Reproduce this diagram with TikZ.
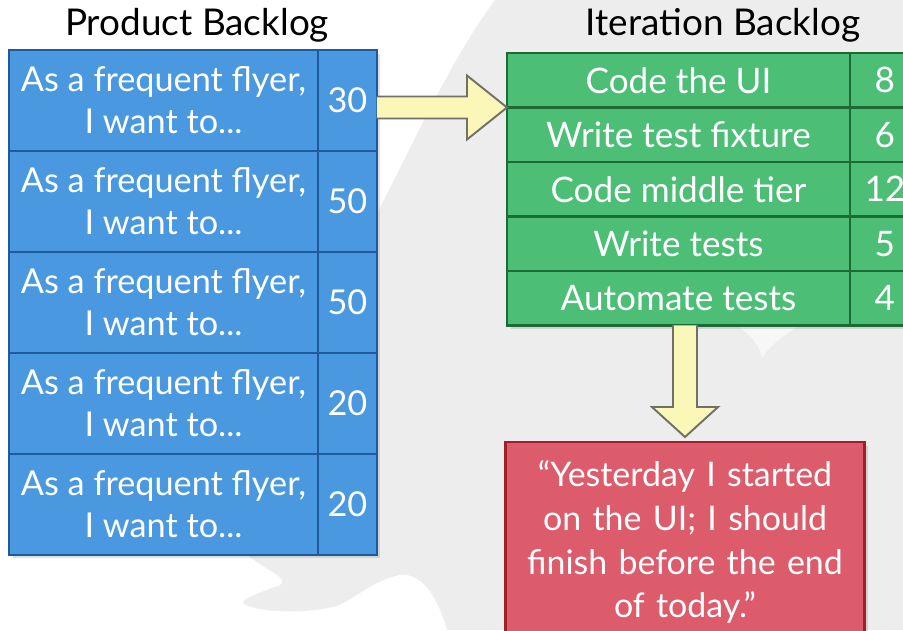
\documentclass[tikz,border=0pt]{standalone}
\usepackage{fontspec}
\setmainfont{Lato}
\usetikzlibrary{positioning, shadows, calc}
\definecolor{bggray}{HTML}{EDEDED}
\definecolor{storyblue}{HTML}{4A98E0}
\definecolor{storyedge}{HTML}{1D5B9E}
\definecolor{taskgreen}{HTML}{4CBE76}
\definecolor{taskedge}{HTML}{1E6A34}
\definecolor{quotered}{HTML}{DD5C6C}
\definecolor{quoteedge}{HTML}{A01F28}
\definecolor{arrowyellow}{HTML}{FAF7B9}
\definecolor{arrowedge}{HTML}{707068}

\begin{document}
\begin{tikzpicture}[x=0.02cm, y=-0.02cm,
        cell/.style={draw, line width=1.3pt, outer sep=0pt, inner sep=0pt, text=white, align=center,
          drop shadow={shadow xshift=2pt, shadow yshift=-2pt, opacity=0.25}},
        story/.style={cell, fill=storyblue, draw=storyedge, minimum width=6.18cm, minimum height=2.02cm,
          font=\fontsize{19.5}{24}\selectfont},
        points/.style={cell, fill=storyblue, draw=storyedge, minimum width=1.18cm, minimum height=2.02cm,
          font=\fontsize{19.5}{22}\selectfont},
        task/.style={cell, fill=taskgreen, draw=taskedge, minimum width=6.86cm, minimum height=1.09cm,
          font=\fontsize{20}{22}\selectfont},
        hours/.style={cell, fill=taskgreen, draw=taskedge, minimum width=1.4cm, minimum height=1.09cm,
          font=\fontsize{20}{22}\selectfont},
        quote/.style={cell, fill=quotered, draw=quoteedge, minimum width=7.18cm, minimum height=4cm,
          text width=7cm, font=\fontsize{19.3}{25}\selectfont},
        heading/.style={font=\fontsize{21}{24}\selectfont, text=black},
        bigarrow/.style={fill=arrowyellow, draw=arrowedge, line width=1.1pt, line join=miter}]
      \useasboundingbox (0,0) rectangle (903,630);
      \clip (0,0) rectangle (903,630);

      % Backdrop
      \fill[bggray] (0,0) rectangle (903,630);
      \fill[white] (0,0) -- (495,0) .. controls (450,60) and (410,150) .. (376,215) -- (376,555) -- (247,555)
        .. controls (265,570) and (290,578) .. (280,585) .. controls (262,592) and (235,600) .. (245,605)
        .. controls (270,615) and (320,612) .. (340,605) .. controls (360,595) and (375,580) .. (400,575)
        .. controls (425,572) and (440,605) .. (447,630) -- (0,630) -- cycle;
      \fill[white, opacity=0.6] (738,326) -- (798,326) .. controls (785,335) and (770,345) .. (762,358)
        .. controls (760,345) and (750,335) .. (738,326);

      % Product backlog
      \node[heading] (pbtitle) at (197,25) {Product Backlog};
      \node[story, anchor=north west] (story1) at (9,50) {As a frequent flyer,\\I want to...};
      \node[points, right=0pt of story1] (pts1) {30};
      \node[story, below=0pt of story1] (story2) {As a frequent flyer,\\I want to...};
      \node[points, right=0pt of story2] (pts2) {50};
      \node[story, below=0pt of story2] (story3) {As a frequent flyer,\\I want to...};
      \node[points, right=0pt of story3] (pts3) {50};
      \node[story, below=0pt of story3] (story4) {As a frequent flyer,\\I want to...};
      \node[points, right=0pt of story4] (pts4) {20};
      \node[story, below=0pt of story4] (story5) {As a frequent flyer,\\I want to...};
      \node[points, right=0pt of story5] (pts5) {20};

      % Iteration backlog
      \node[heading] (ibtitle) at (723,25) {Iteration Backlog};
      \node[task, anchor=north west] (ui) at (507,53) {Code the UI};
      \node[hours, right=0pt of ui] (uihrs) {8};
      \node[task, below=0pt of ui] (fixture) {Write test fixture};
      \node[hours, right=0pt of fixture] (fixturehrs) {6};
      \node[task, below=0pt of fixture] (middle) {Code middle tier};
      \node[hours, right=0pt of middle] (middlehrs) {12};
      \node[task, below=0pt of middle] (tests) {Write tests};
      \node[hours, right=0pt of tests] (testshrs) {5};
      \node[task, below=0pt of tests] (automate) {Automate tests};
      \node[hours, right=0pt of automate] (automatehrs) {4};

      % Stand-up report
      \node[quote, anchor=north] (standup) at (685,442)
        {“Yesterday I started\\on the UI; I should\\finish before the end\\of today.”};

      % Block arrows
      \coordinate (rtail) at (pts1.east |- ui.south west);
      \filldraw[bigarrow] ($(rtail)+(0,-11)$) -- ($(ui.south west)+(-40,-11)$) -- ++(0,-21) -- (ui.south west)
        -- ++(-40,32) -- ++(0,-21) -- ($(rtail)+(0,11)$);
      \coordinate (dtip) at ($(standup.north)+(0,-5)$);
      \coordinate (dtail) at (dtip |- automate.south);
      \filldraw[bigarrow] ($(dtail)+(-12,0)$) -- ($(dtip)+(-12,-30)$) -- ++(-21,0) -- (dtip)
        -- ++(33,-30) -- ++(-21,0) -- ($(dtail)+(12,0)$);
    \end{tikzpicture}
\end{document}
